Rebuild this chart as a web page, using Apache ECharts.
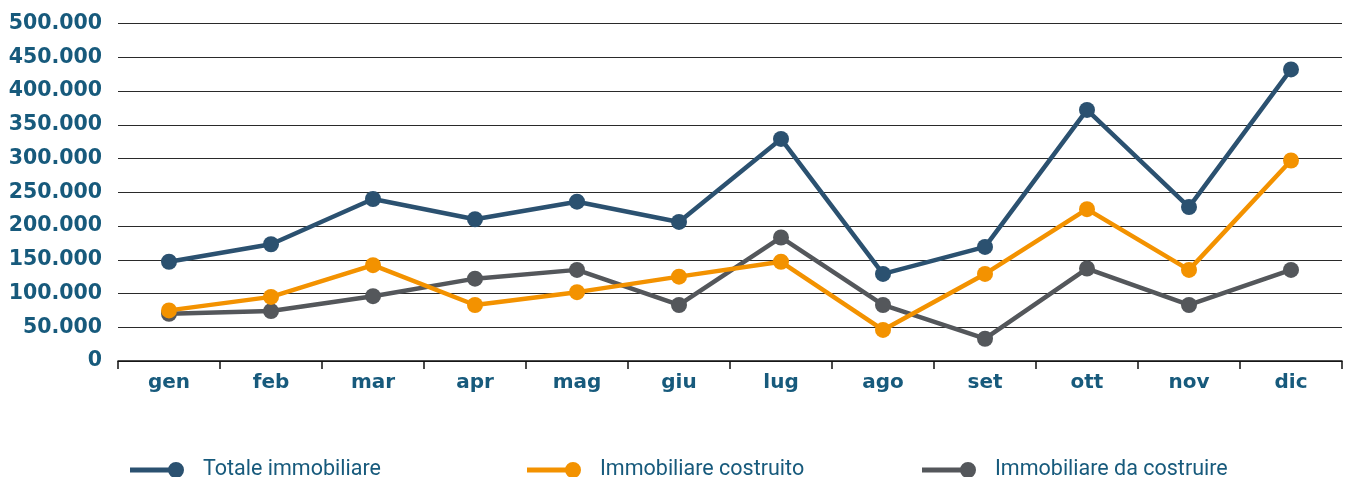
<!DOCTYPE html>
<html>
<head>
<meta charset="utf-8">
<style>
  html, body { margin: 0; padding: 0; background: #ffffff; }
  #chart { width: 1346px; height: 477px; }
</style>
<script src="https://cdn.jsdelivr.net/npm/echarts@6/dist/echarts.min.js"></script>
</head>
<body>
<div id="chart"></div>
<script>
// Mesi
const months = ['gen', 'feb', 'mar', 'apr', 'mag', 'giu', 'lug', 'ago', 'set', 'ott', 'nov', 'dic'];

// Serie (valori in euro)
const totaleImmobiliare = [147000, 173000, 240000, 210000, 236000, 206000, 329000, 129000, 169000, 372000, 228000, 432000];
const immobiliareCostruito = [75000, 95000, 142000, 83000, 102000, 125000, 147000, 46000, 129000, 225000, 135000, 297000];
const immobiliareDaCostruire = [70000, 74000, 96000, 122000, 135000, 83000, 183000, 83000, 33000, 137000, 83000, 135000];

const seriesNames = ['Totale immobiliare', 'Immobiliare costruito', 'Immobiliare da costruire'];
const seriesColors = ['#2b5170', '#f39200', '#54575b'];
const legendLefts = [125, 522, 917];

const labelColor = '#175a7c';

// thousands separator with a dot
function fmt(v) {
  return String(v).replace(/\B(?=(\d{3})+(?!\d))/g, '.');
}

// legend marker: a line ending in a dot
const legendIcon = 'path://M0,5.5 L41,5.5 L41,10.5 L0,10.5 Z M38,8 A8,8 0 1,1 54,8 A8,8 0 1,1 38,8 Z';

const chart = echarts.init(document.getElementById('chart'), null, { renderer: 'canvas' });

const dataSets = [totaleImmobiliare, immobiliareCostruito, immobiliareDaCostruire];

chart.setOption({
  animation: false,
  backgroundColor: '#ffffff',
  grid: { left: 118, right: 4, top: 23.5, bottom: 116, containLabel: false },
  legend: seriesNames.map((n, i) => ({
    left: legendLefts[i],
    top: 454,
    itemWidth: 54,
    itemHeight: 16,
    icon: legendIcon,
    data: [{ name: n, itemStyle: { color: seriesColors[i] } }],
    textStyle: {
      fontFamily: 'Roboto',
      fontSize: 21.5,
      color: labelColor,
      padding: [0, 0, 0, 14]
    }
  })),
  xAxis: {
    type: 'category',
    data: months,
    boundaryGap: true,
    axisLine: { show: true, lineStyle: { color: '#111111', width: 1.5 } },
    axisTick: { show: true, length: 8, lineStyle: { color: '#111111', width: 1.5 } },
    axisLabel: {
      fontFamily: 'DejaVu Sans',
      fontWeight: 'bold',
      fontSize: 20,
      color: labelColor,
      margin: 12
    },
    splitLine: { show: false }
  },
  yAxis: {
    type: 'value',
    min: 0,
    max: 500000,
    interval: 50000,
    axisLine: { show: false },
    axisTick: { show: false },
    axisLabel: {
      fontFamily: 'DejaVu Sans',
      fontWeight: 'bold',
      fontSize: 20.5,
      color: labelColor,
      margin: 16,
      formatter: v => fmt(v)
    },
    splitLine: { show: true, lineStyle: { color: '#2a2a2a', width: 1 } }
  },
  series: dataSets.map((d, i) => ({
    name: seriesNames[i],
    type: 'line',
    data: d,
    symbol: 'circle',
    symbolSize: 16,
    lineStyle: { color: seriesColors[i], width: 4.5 },
    itemStyle: { color: seriesColors[i] },
    z: 3 - i
  }))
});
</script>
</body>
</html>
